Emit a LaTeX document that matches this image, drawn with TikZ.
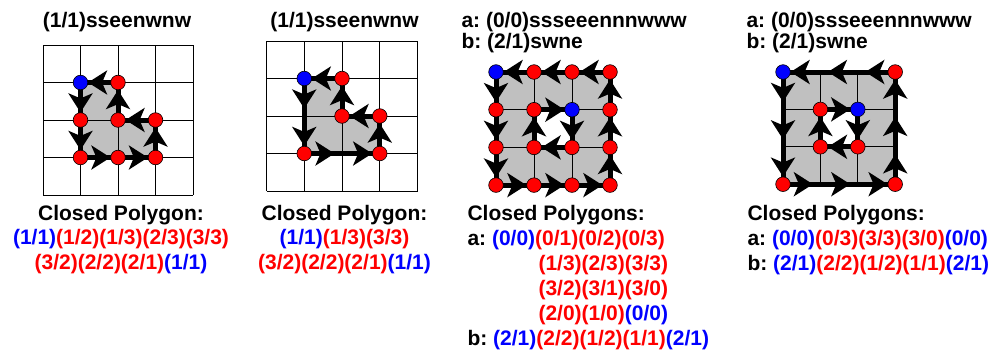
\documentclass[tikz,border=0pt]{standalone}
\usepackage{fontspec}
\setmainfont{Liberation Sans}
\usetikzlibrary{arrows.meta,positioning}
\definecolor{polygray}{RGB}{192,192,192}
\newcommand{\vblue}[1]{\textcolor{blue}{#1}}
\newcommand{\vred}[1]{\textcolor{red}{#1}}
\frenchspacing

\begin{document}
\begin{tikzpicture}[x=1pt,y=-1pt,
  font=\fontsize{21}{25}\selectfont\bfseries,
  gridline/.style={line width=0.9pt},
  polyfill/.style={fill=polygray},
  pathline/.style={line width=5pt},
  steparrow/.style={line width=5pt,-{Stealth[length=19pt,width=24pt,inset=5pt]}},
  vtx/.style={circle,draw,line width=0.6pt,fill=red,minimum size=14.6pt,inner sep=0pt},
  startvtx/.style={vtx,fill=blue},
  ghost/.style={circle,minimum size=14.6pt,inner sep=0pt}]

\useasboundingbox (0,0) rectangle (991,351);

% grid points (x/y) of the four panels
\foreach \i in {0,...,4}{\foreach \j in {0,...,4}{
  \coordinate (A\i\j) at ({43+37.5*\i},{45+37.5*\j});
  \coordinate (B\i\j) at ({266.5+37.75*\i},{41+37.5*\j});
}}
\foreach \i in {0,...,3}{\foreach \j in {0,...,3}{
  \coordinate (C\i\j) at ({496+38*\i},{72+37.7*\j});
  \coordinate (D\i\j) at ({783+37.4*\i},{72+37.4*\j});
}}

%% panel 1
\fill[polyfill] (A11)--(A12)--(A13)--(A23)--(A33)--(A32)--(A22)--(A21)--cycle;
\foreach \k in {0,...,4}{
  \draw[gridline] (A\k0) -- (A\k4);
  \draw[gridline] (A0\k) -- (A4\k);
}
\draw[pathline] (A11)--(A12)--(A13)--(A23)--(A33)--(A32)--(A22)--(A21)--cycle;
\node[startvtx] (a11) at (A11) {};
\foreach \p in {12,13,23,33,32,22,21} \node[vtx] (a\p) at (A\p) {};
\foreach \u/\v in {11/12,12/13,13/23,23/33,33/32,32/22,22/21,21/11}
  \draw[steparrow] (a\u) -- (a\v);

\node[anchor=base] (title1) at (117,27) {(1/1)sseenwnw};
\node[anchor=base] (cap1) at (121,220) {Closed Polygon:};
\node[anchor=base] (seq1a) at (121,244.5) {\vblue{(1/1)}\vred{(1/2)(1/3)(2/3)(3/3)}};
\node[anchor=base] (seq1b) at (121,269) {\vred{(3/2)(2/2)(2/1)}\vblue{(1/1)}};

%% panel 2
\fill[polyfill] (B11)--(B13)--(B33)--(B32)--(B22)--(B21)--cycle;
\foreach \k in {0,...,4}{
  \draw[gridline] (B\k0) -- (B\k4);
  \draw[gridline] (B0\k) -- (B4\k);
}
\draw[pathline] (B11)--(B13)--(B33)--(B32)--(B22)--(B21)--cycle;
\node[startvtx] (b11) at (B11) {};
\foreach \p in {13,33,32,22,21} \node[vtx] (b\p) at (B\p) {};
\foreach \p in {12,23} \node[ghost] (b\p) at (B\p) {};
\foreach \u/\v in {11/12,12/13,13/23,23/33,33/32,32/22,22/21,21/11}
  \draw[steparrow] (b\u) -- (b\v);

\node[anchor=base] (title2) at (344.5,27) {(1/1)sseenwnw};
\node[anchor=base] (cap2) at (344.5,220) {Closed Polygon:};
\node[anchor=base] (seq2a) at (344.5,244.5) {\vblue{(1/1)}\vred{(1/3)(3/3)}};
\node[anchor=base] (seq2b) at (344.5,269) {\vred{(3/2)(2/2)(2/1)}\vblue{(1/1)}};

%% panel 3
\fill[polyfill,even odd rule] (C00)--(C03)--(C33)--(C30)--cycle
  (C11)--(C12)--(C22)--(C21)--cycle;
\foreach \k in {0,...,3}{
  \draw[gridline] (C\k0) -- (C\k3);
  \draw[gridline] (C0\k) -- (C3\k);
}
\draw[pathline] (C00)--(C03)--(C33)--(C30)--cycle;
\draw[pathline] (C21)--(C22)--(C12)--(C11)--cycle;
\node[startvtx] (c00) at (C00) {};
\node[startvtx] (c21) at (C21) {};
\foreach \p in {01,02,03,13,23,33,32,31,30,20,10,22,12,11} \node[vtx] (c\p) at (C\p) {};
\foreach \u/\v in {00/01,01/02,02/03,03/13,13/23,23/33,33/32,32/31,31/30,30/20,20/10,10/00,
  21/22,22/12,12/11,11/21}
  \draw[steparrow] (c\u) -- (c\v);

\node[anchor=base west] (title3a) at (458,27) {a: (0/0)ssseeennnwww};
\node[anchor=base west] (title3b) at (458,48) {b: (2/1)swne};
\node[anchor=base west] (cap3) at (464,220) {Closed Polygons:};
\node[anchor=base west] (seq3a) at (464,245) {a: \vblue{(0/0)}\vred{(0/1)(0/2)(0/3)}};
\node[anchor=base west] (seq3b) at (535,270) {\vred{(1/3)(2/3)(3/3)}};
\node[anchor=base west] (seq3c) at (535,295) {\vred{(3/2)(3/1)(3/0)}};
\node[anchor=base west] (seq3d) at (535,320) {\vred{(2/0)(1/0)}\vblue{(0/0)}};
\node[anchor=base west] (seq3e) at (464,345) {b: \vblue{(2/1)}\vred{(2/2)(1/2)(1/1)}\vblue{(2/1)}};

%% panel 4
\fill[polyfill,even odd rule] (D00)--(D03)--(D33)--(D30)--cycle
  (D11)--(D12)--(D22)--(D21)--cycle;
\foreach \k in {0,...,3}{
  \draw[gridline] (D\k0) -- (D\k3);
  \draw[gridline] (D0\k) -- (D3\k);
}
\draw[pathline] (D00)--(D03)--(D33)--(D30)--cycle;
\draw[pathline] (D21)--(D22)--(D12)--(D11)--cycle;
\node[startvtx] (d00) at (D00) {};
\node[startvtx] (d21) at (D21) {};
\foreach \p in {03,33,30,22,12,11} \node[vtx] (d\p) at (D\p) {};
\foreach \p in {01,02,13,23,32,31,20,10} \node[ghost] (d\p) at (D\p) {};
\foreach \u/\v in {00/01,01/02,02/03,03/13,13/23,23/33,33/32,32/31,31/30,30/20,20/10,10/00,
  21/22,22/12,12/11,11/21}
  \draw[steparrow] (d\u) -- (d\v);

\node[anchor=base west] (title4a) at (743,27) {a: (0/0)ssseeennnwww};
\node[anchor=base west] (title4b) at (743,48) {b: (2/1)swne};
\node[anchor=base west] (cap4) at (744,220) {Closed Polygons:};
\node[anchor=base west] (seq4a) at (744,245) {a: \vblue{(0/0)}\vred{(0/3)(3/3)(3/0)}\vblue{(0/0)}};
\node[anchor=base west] (seq4b) at (744,270) {b: \vblue{(2/1)}\vred{(2/2)(1/2)(1/1)}\vblue{(2/1)}};

\end{tikzpicture}
\end{document}
